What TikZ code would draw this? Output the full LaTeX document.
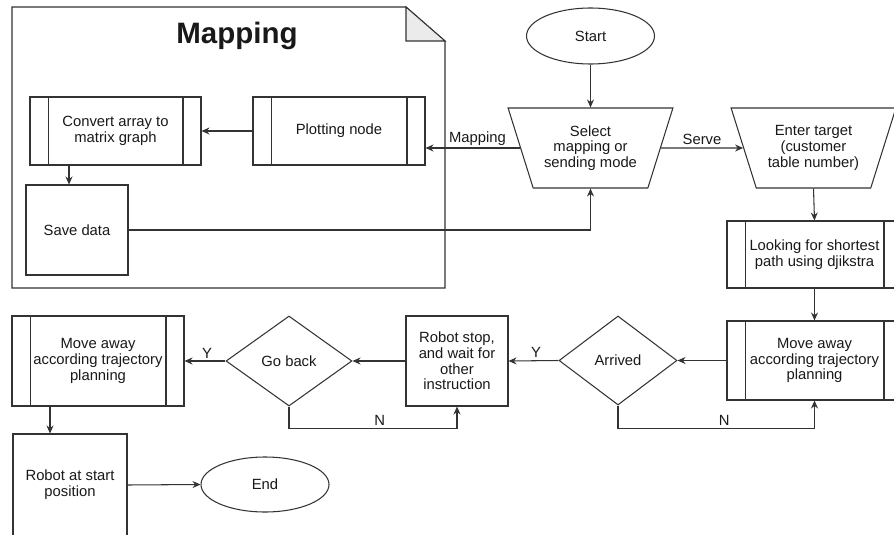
\documentclass[tikz,border=0pt]{standalone}
\usepackage{fontspec}
\setmainfont{Liberation Sans}
\usetikzlibrary{shapes.geometric,arrows.meta,calc}
\begin{document}
\begin{tikzpicture}[x=1pt,y=-1pt,
  line width=1.05pt,
  every node/.style={font=\fontsize{14.8}{15.7}\selectfont, text=black!90},
  lin/.style={draw=black!80},
  arr/.style={lin,-{Stealth[length=8pt,width=7pt]}},
  box/.style={lin,rectangle,align=center,inner sep=1pt},
  subproc/.style={box,path picture={
     \draw[black!80,line width=1.05pt] ([xshift=18.5pt]path picture bounding box.north west) -- ([xshift=18.5pt]path picture bounding box.south west);
     \draw[black!80,line width=1.05pt] ([xshift=-18pt]path picture bounding box.north east) -- ([xshift=-18pt]path picture bounding box.south east);}},
  term/.style={lin,ellipse,minimum width=128pt,minimum height=56pt,inner sep=0pt},
  dec/.style={lin,diamond,inner sep=0pt},
  inp/.style={lin,trapezium,shape border rotate=180,trapezium left angle=65.8,trapezium right angle=65.8,
     trapezium stretches=true,minimum width=165pt,minimum height=80pt,align=center,inner sep=0pt},
  lbl/.style={font=\fontsize{14.8}{15.7}\selectfont}
]
\clip (0,0) rectangle (894,535);
\fill[white] (0,0) rectangle (894,535);
% Mapping frame
\draw[lin] (12,7) -- (406,7) -- (445,41) -- (445,288) -- (12,288) -- cycle;
\filldraw[lin,fill=black!8] (406,7) -- (406,41) -- (445,41) -- cycle;
\node[font=\fontsize{29.5}{31}\selectfont\bfseries] (title) at (237,36) {Mapping};

\node[subproc,minimum width=171pt,minimum height=68pt] (conv) at (115.5,131) {Convert array to\\matrix graph};
\node[subproc,minimum width=172pt,minimum height=68pt] (plot) at (339,131) {Plotting node};
\node[box,minimum width=102pt,minimum height=90pt] (save) at (77,230) {Save data};

\node[term] (start) at (590.5,36) {Start};
\node[inp] (sel) at (590.5,148) {Select\\mapping or\\sending mode};
\node[inp] (ent) at (813.5,148) {Enter target\\(customer\\table number)};
\node[subproc,minimum width=175pt,minimum height=67pt] (look) at (814.5,254.5) {Looking for shortest\\path using djikstra};
\node[subproc,minimum width=175pt,minimum height=79pt] (mv1) at (814.5,360.5) {Move away\\according trajectory\\planning};
\node[dec,minimum width=118pt,minimum height=89pt] (arrd) at (618,360.5) {Arrived};
\node[box,minimum width=102pt,minimum height=90pt] (stop) at (457,361) {Robot stop,\\and wait for\\other\\instruction};
\node[dec,minimum width=126pt,minimum height=90pt] (gb) at (289,361) {Go back};
\node[subproc,minimum width=172pt,minimum height=90pt] (mv2) at (98,361) {Move away\\according trajectory\\planning};
\node[box,minimum width=114pt,minimum height=102pt] (rsp) at (70,485) {Robot at start\\position};
\node[term,minimum height=55pt] (end) at (265,484.5) {End};

% connectors
\draw[arr] (start) -- (sel);
\draw[arr] (sel.west) -- node[lbl,above,pos=0.45,yshift=-1pt]{Mapping} (plot.east |- sel.west);
\draw[arr] (sel.east) -- node[lbl,above,pos=0.5,yshift=-1pt]{Serve} (ent.west);
\draw[arr] (plot) -- (conv);
\draw[arr] ([xshift=-8pt]save.north |- conv.south) -- ([xshift=-8pt]save.north);
\draw[arr] (save.east) -| (sel.south);
\draw[arr] (ent.south) -- (look.north);
\draw[arr] (look.south) -- (mv1.north);
\draw[arr] (mv1.west) -- (arrd.east);
\draw[arr] (arrd.west) -- node[lbl,above,pos=0.45,yshift=-1pt]{Y} (stop.east);
\draw[arr] (arrd.south) -- ++(0,23) coordinate (n1) -| node[lbl,above,pos=0.27,yshift=-1pt]{N} (mv1.south);
\draw[arr] (stop.west) -- (gb.east);
\draw[arr] (gb.west) -- node[lbl,above,pos=0.45,yshift=-1pt]{Y} (mv2.east);
\draw[arr] (gb.south) -- ++(0,22) coordinate (n2) -| node[lbl,above,pos=0.27,yshift=-1pt]{N} (stop.south);
\draw[arr] ([xshift=-20pt]rsp.north |- mv2.south) -- ([xshift=-20pt]rsp.north);
\draw[arr] (rsp.east) -- (end.west);
\end{tikzpicture}
\end{document}
